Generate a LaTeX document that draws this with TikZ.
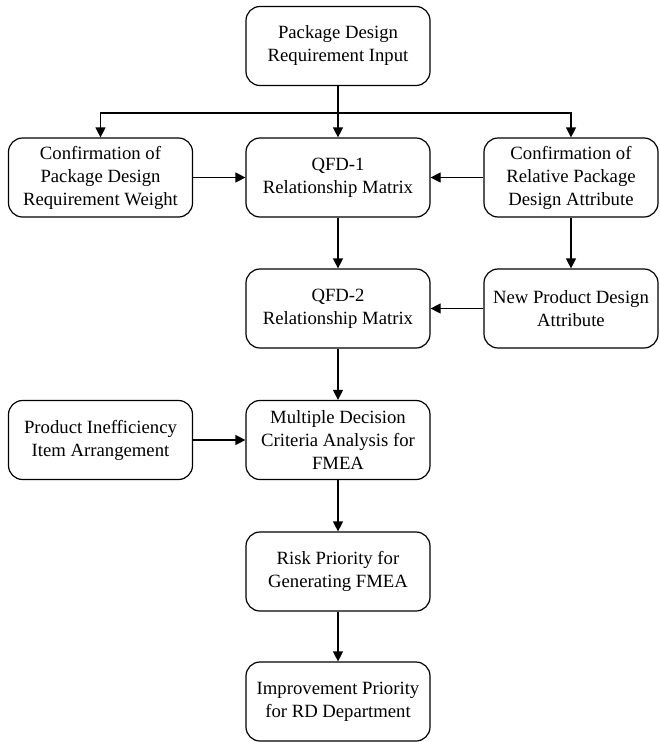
\documentclass[tikz,border=0pt]{standalone}
\usepackage{fontspec}
\setmainfont{Liberation Serif}
\usetikzlibrary{arrows.meta}
\begin{document}
\begin{tikzpicture}[x=1pt,y=-1pt,
  box/.style={draw, rounded corners=14pt, line width=1.2pt, minimum height=79pt,
    align=center, inner sep=0pt, font=\fontsize{18.7}{23}\selectfont},
  wbox/.style={box, minimum width=184pt},
  rbox/.style={box, minimum width=174pt},
  arr/.style={line width=1.2pt, -{Triangle[length=10pt,width=10pt]}}]
\useasboundingbox (0,0) rectangle (660,742);
\node[wbox] (input) at (338,46) {Package Design\\Requirement Input};
\node[wbox] (weight) at (100.5,177.5) {Confirmation of\\Package Design\\Requirement Weight};
\node[wbox] (qfd1) at (338,177.5) {QFD-1\\Relationship Matrix};
\node[rbox] (attr) at (571,177.5) {Confirmation of\\Relative Package\\Design Attribute};
\node[wbox] (qfd2) at (338,308.5) {QFD-2\\Relationship Matrix};
\node[rbox] (newp) at (571,308.5) {New Product Design\\Attribute};
\node[wbox] (ineff) at (100.5,440) {Product Inefficiency\\Item Arrangement};
\node[wbox] (mdca) at (338,440) {Multiple Decision\\Criteria Analysis for\\FMEA};
\node[wbox] (risk) at (338,571.5) {Risk Priority for\\Generating FMEA};
\node[wbox] (impr) at (338,701.5) {Improvement Priority\\for RD Department};
\coordinate (br) at (338,113);
\draw[arr] (input) -- (qfd1);
\draw[arr] (br) -| (weight.north);
\draw[arr] (br) -| (attr.north);
\draw[arr] (weight) -- (qfd1);
\draw[arr] (attr) -- (qfd1);
\draw[arr] (qfd1) -- (qfd2);
\draw[arr] (attr) -- (newp);
\draw[arr] (newp) -- (qfd2);
\draw[arr] (qfd2) -- (mdca);
\draw[arr] (ineff) -- (mdca);
\draw[arr] (mdca) -- (risk);
\draw[arr] (risk) -- (impr);
\end{tikzpicture}
\end{document}
